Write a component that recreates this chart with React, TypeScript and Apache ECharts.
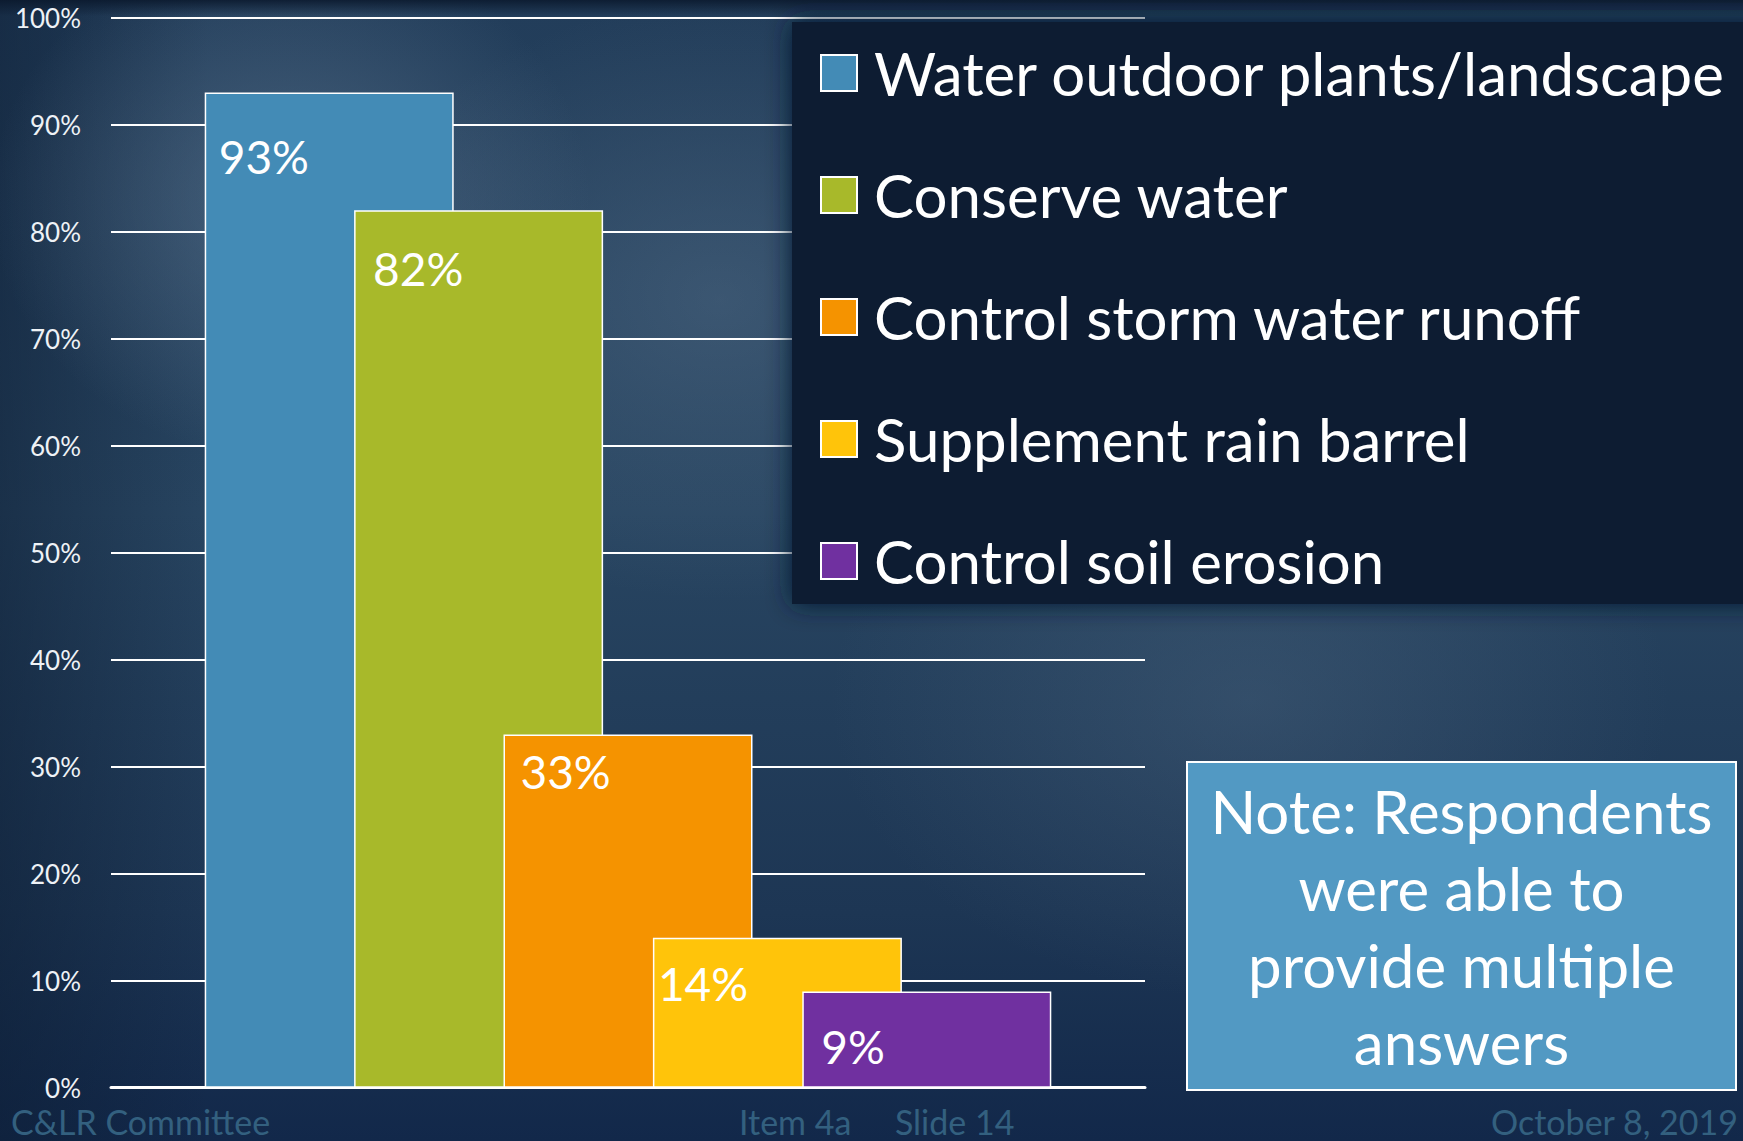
import React, { useEffect, useRef } from "react";
import * as echarts from "echarts";

const categories = ["Purpose"];
const seriesNames = [
  "Water outdoor plants/landscape",
  "Conserve water",
  "Control storm water runoff",
  "Supplement rain barrel",
  "Control soil erosion",
];
const seriesValues = [93, 82, 33, 14, 9];
const seriesColors = ["#438bb6", "#a8b92a", "#f59300", "#ffc40a", "#7030a0"];
const labelOffsets = [
  [14, 41],
  [19, 35],
  [17, 14],
  [5, 23],
  [19, 32],
];
const noteLines = ["Note: Respondents", "were able to", "provide multiple", "answers"];
const footerLeft = "C&LR Committee";
const footerMid = "Item 4a     Slide 14";
const footerRight = "October 8, 2019";

const FONT = "Lato, 'Open Sans', sans-serif";

export default function App() {
  const ref = useRef<HTMLDivElement>(null);
  useEffect(() => {
    if (!ref.current) return;
    const chart = echarts.init(ref.current, undefined, { renderer: "svg" });
    const series = seriesNames.map((name, i) => ({
      name,
      type: "bar",
      data: [seriesValues[i]],
      barWidth: 249,
      barGap: "-40%",
      itemStyle: { color: seriesColors[i], borderColor: "#ffffff", borderWidth: 1.5 },
      label: {
        show: true,
        position: "insideTopLeft",
        distance: 0,
        offset: labelOffsets[i],
        formatter: "{c}%",
        color: "#ffffff",
        fontFamily: FONT,
        fontSize: 46,
      },
    }));
    chart.setOption({
      animation: false,
      backgroundColor: "transparent",
      textStyle: { fontFamily: FONT },
      grid: { left: 111, right: 598, top: 17.5, bottom: 53.3, containLabel: false },
      xAxis: {
        type: "category",
        data: categories,
        axisLabel: { show: false },
        axisTick: { show: false },
        axisLine: { show: true, lineStyle: { color: "#ffffff", width: 3 } },
      },
      yAxis: {
        type: "value",
        min: 0,
        max: 100,
        interval: 10,
        axisLine: { show: false },
        axisTick: { show: false },
        splitLine: { show: true, lineStyle: { color: "#ffffff", width: 2 } },
        axisLabel: {
          formatter: "{value}%",
          color: "#eef2f6",
          fontSize: 26,
          fontFamily: FONT,
          margin: 30,
        },
      },
      legend: {
        orient: "vertical",
        left: 815,
        top: 38,
        itemWidth: 36,
        itemHeight: 36,
        itemGap: 62,
        icon: "rect",
        data: seriesNames,
        textStyle: {
          color: "#ffffff",
          fontSize: 60,
          fontFamily: FONT,
          padding: [0, 0, 0, 12],
        },
      },
      graphic: [
        {
          type: "rect",
          z: 1,
          silent: true,
          shape: { x: 792, y: 22, width: 990, height: 582 },
          style: { fill: "#0a1a30", shadowBlur: 26, shadowColor: "#0a1a30" },
        },
        {
          type: "group",
          z: 3,
          children: [
            {
              type: "rect",
              shape: { x: 1187, y: 762, width: 549, height: 328 },
              style: { fill: "#5299c3", stroke: "#ffffff", lineWidth: 2 },
            },
            {
              type: "text",
              x: 1461.5,
              y: 926,
              style: {
                text: noteLines.join("\n"),
                fill: "#ffffff",
                font: `60px ${FONT}`,
                align: "center",
                verticalAlign: "middle",
                lineHeight: 77,
              },
            },
          ],
        },
        {
          type: "text",
          x: 11,
          y: 1121,
          style: { text: footerLeft, fill: "#33607f", font: `34px ${FONT}`, verticalAlign: "middle" },
        },
        {
          type: "text",
          x: 739,
          y: 1121,
          style: { text: footerMid, fill: "#33607f", font: `34px ${FONT}`, verticalAlign: "middle" },
        },
        {
          type: "text",
          x: 1738,
          y: 1121,
          style: {
            text: footerRight,
            fill: "#33607f",
            font: `34px ${FONT}`,
            align: "right",
            verticalAlign: "middle",
          },
        },
      ],
      series,
    });
    return () => chart.dispose();
  }, []);

  const bg =
    "linear-gradient(180deg, rgba(10,24,44,0.85) 0px, rgba(10,24,44,0) 16px)," +
    "radial-gradient(ellipse 300px 260px at 290px 200px, rgba(110,135,160,0.45), rgba(110,135,160,0) 100%)," +
    "radial-gradient(ellipse 380px 300px at 720px 300px, rgba(100,125,150,0.35), rgba(100,125,150,0) 100%)," +
    "radial-gradient(ellipse 420px 300px at 1250px 700px, rgba(90,115,140,0.3), rgba(90,115,140,0) 100%)," +
    "linear-gradient(90deg, rgba(12,28,50,0.5) 0%, rgba(12,28,50,0) 12%)," +
    "linear-gradient(180deg, #223d5a 0%, #284561 45%, #1d3654 80%, #12284a 100%)";

  return (
    <div
      style={{
        position: "fixed",
        left: 0,
        top: 0,
        width: 1743,
        height: 1141,
        background: bg,
        overflow: "hidden",
      }}
    >
      <div ref={ref} style={{ width: 1743, height: 1141 }} />
    </div>
  );
}
